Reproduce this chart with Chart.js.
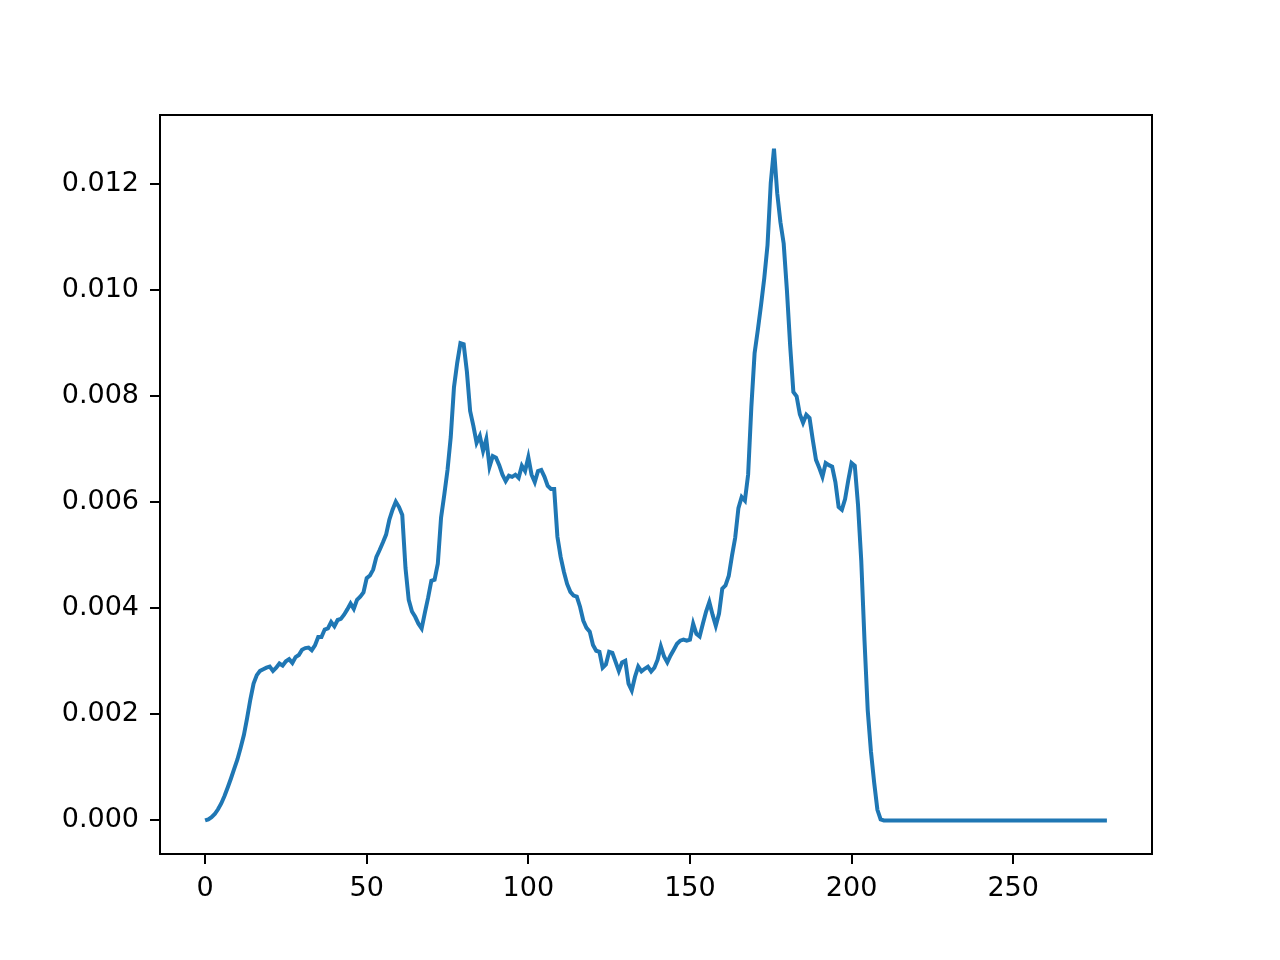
<!DOCTYPE html>
<html>
<head>
<meta charset="utf-8">
<title>Density</title>
<script src="https://cdn.jsdelivr.net/npm/chart.js@4.4.0/dist/chart.umd.min.js"></script>
<style>
  body { margin: 0; background: #ffffff; }
  #wrap { width: 1280px; height: 960px; }
</style>
</head>
<body>
<div id="wrap"><canvas id="chart" width="1280" height="960"></canvas></div>
<script>
// tick positions
const xTicks = [0, 50, 100, 150, 200, 250];
const yTicks = [0, 0.002, 0.004, 0.006, 0.008, 0.01, 0.012];

// one value per bin, index = bin (0..279)
const density = [
  0.00000, 0.00002, 0.00006, 0.00012, 0.00021, 0.00032, 0.00046, 0.00062, 0.00079, 0.00097,
  0.00115, 0.00137, 0.00161, 0.00193, 0.00228, 0.00258, 0.00274, 0.00282, 0.00285, 0.00288,
  0.00290, 0.00282, 0.00288, 0.00296, 0.00292, 0.00300, 0.00304, 0.00297, 0.00308, 0.00312,
  0.00322, 0.00325, 0.00326, 0.00321, 0.00330, 0.00346, 0.00346, 0.00360, 0.00362, 0.00374,
  0.00366, 0.00378, 0.00380, 0.00388, 0.00398, 0.00409, 0.00399, 0.00416, 0.00422, 0.00430,
  0.00457, 0.00462, 0.00473, 0.00497, 0.00510, 0.00524, 0.00539, 0.00567, 0.00586, 0.00601,
  0.00591, 0.00576, 0.00476, 0.00416, 0.00394, 0.00384, 0.00371, 0.00362, 0.00392, 0.00420,
  0.00452, 0.00454, 0.00484, 0.00571, 0.00614, 0.00661, 0.00723, 0.00817, 0.00863, 0.00900,
  0.00898, 0.00846, 0.00772, 0.00744, 0.00712, 0.00725, 0.00697, 0.00719, 0.00667, 0.00687,
  0.00684, 0.00670, 0.00652, 0.00640, 0.00650, 0.00648, 0.00652, 0.00646, 0.00669, 0.00659,
  0.00685, 0.00652, 0.00638, 0.00659, 0.00661, 0.00648, 0.00631, 0.00625, 0.00625, 0.00535,
  0.00497, 0.00469, 0.00446, 0.00431, 0.00424, 0.00422, 0.00403, 0.00377, 0.00363, 0.00356,
  0.00331, 0.00320, 0.00318, 0.00288, 0.00294, 0.00318, 0.00316, 0.00299, 0.00282, 0.00298,
  0.00301, 0.00258, 0.00245, 0.00271, 0.00290, 0.00281, 0.00286, 0.00290, 0.00281, 0.00288,
  0.00303, 0.00328, 0.00309, 0.00298, 0.00311, 0.00322, 0.00333, 0.00339, 0.00341, 0.00339,
  0.00341, 0.00371, 0.00352, 0.00347, 0.00371, 0.00394, 0.00412, 0.00388, 0.00367, 0.00390,
  0.00437, 0.00443, 0.00461, 0.00499, 0.00533, 0.00589, 0.00610, 0.00603, 0.00652, 0.00780,
  0.00881, 0.00925, 0.00972, 0.01023, 0.01085, 0.01202, 0.01267, 0.01183, 0.01128, 0.01088,
  0.01000, 0.00896, 0.00808, 0.00800, 0.00766, 0.00750, 0.00765, 0.00759, 0.00718, 0.00680,
  0.00665, 0.00648, 0.00674, 0.00670, 0.00667, 0.00638, 0.00591, 0.00586, 0.00606, 0.00642,
  0.00674, 0.00669, 0.00595, 0.00490, 0.00340, 0.00208, 0.00130, 0.00071, 0.00020, 0.00002,
  0, 0, 0, 0, 0, 0, 0, 0, 0, 0,
  0, 0, 0, 0, 0, 0, 0, 0, 0, 0,
  0, 0, 0, 0, 0, 0, 0, 0, 0, 0,
  0, 0, 0, 0, 0, 0, 0, 0, 0, 0,
  0, 0, 0, 0, 0, 0, 0, 0, 0, 0,
  0, 0, 0, 0, 0, 0, 0, 0, 0, 0,
  0, 0, 0, 0, 0, 0, 0, 0, 0, 0
];

const points = density.map((v, i) => ({ x: i, y: v }));

// matplotlib style 5% margins around the data
const xSpan = density.length - 1;
const yPeak = Math.max(...density);

const frame = {
  id: "frame",
  afterDraw(chart) {
    const { ctx, chartArea: a } = chart;
    ctx.save();
    ctx.strokeStyle = "#000000";
    ctx.lineWidth = 2;
    ctx.strokeRect(a.left, a.top, a.right - a.left, a.bottom - a.top);
    ctx.restore();
  },
};

const tickFont = { family: "'DejaVu Sans'", size: 27 };

new Chart(document.getElementById("chart"), {
  type: "line",
  data: {
    datasets: [
      {
        data: points,
        borderColor: "#1f77b4",
        borderWidth: 4,
        pointRadius: 0,
        tension: 0,
        fill: false,
      },
    ],
  },
  options: {
    responsive: false,
    animation: false,
    devicePixelRatio: 1,
    layout: { padding: { top: 115, right: 128, left: 0, bottom: 0 } },
    plugins: {
      legend: { display: false },
      tooltip: { enabled: false },
    },
    scales: {
      x: {
        type: "linear",
        min: -0.05 * xSpan,
        max: xSpan * 1.05,
        afterBuildTicks: (scale) => {
          scale.ticks = xTicks.map((v) => ({ value: v }));
        },
        afterFit: (scale) => {
          scale.height = 106;
        },
        border: { display: false },
        grid: { drawOnChartArea: false, drawTicks: true, tickLength: 10, color: "#000000", lineWidth: 2 },
        ticks: { color: "#000000", font: tickFont, padding: 9, maxRotation: 0, callback: (v) => String(v) },
      },
      y: {
        type: "linear",
        min: -0.05 * yPeak,
        max: yPeak * 1.05,
        afterBuildTicks: (scale) => {
          scale.ticks = yTicks.map((v) => ({ value: v }));
        },
        afterFit: (scale) => {
          scale.width = 160;
        },
        border: { display: false },
        grid: { drawOnChartArea: false, drawTicks: true, tickLength: 10, color: "#000000", lineWidth: 2 },
        ticks: { color: "#000000", font: tickFont, padding: 11, callback: (v) => v.toFixed(3) },
      },
    },
  },
  plugins: [frame],
});
</script>
</body>
</html>
